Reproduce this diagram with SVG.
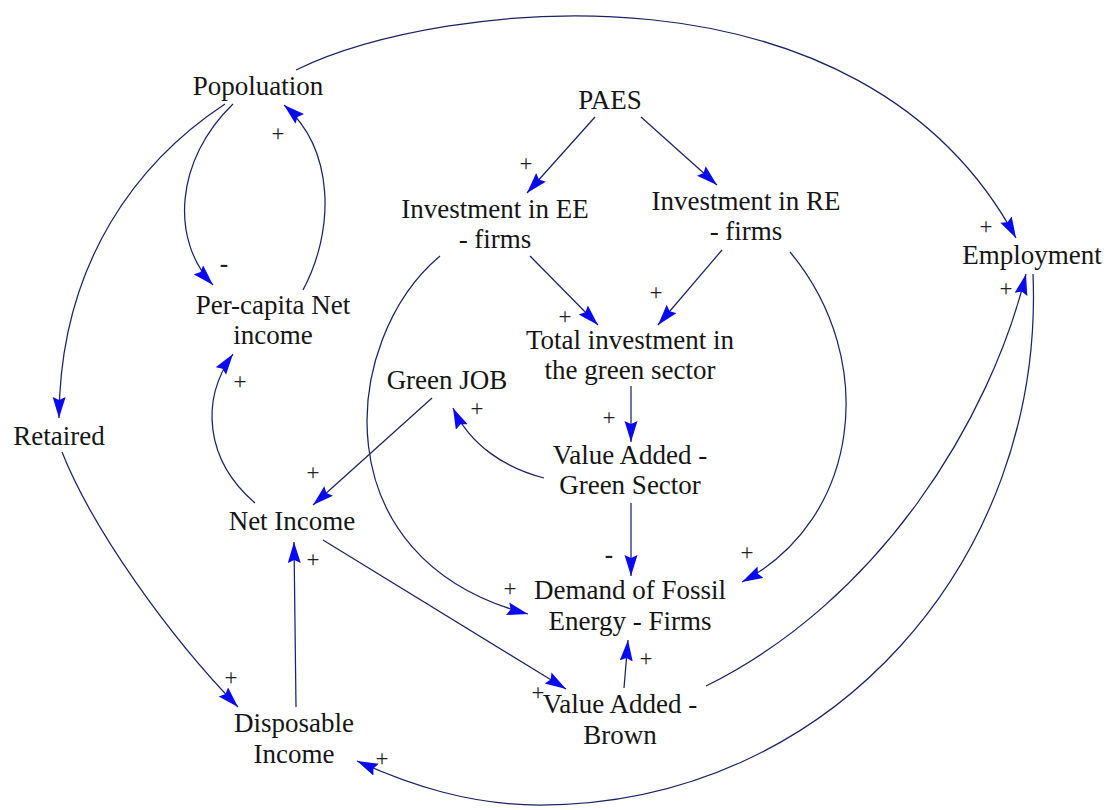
<svg xmlns="http://www.w3.org/2000/svg" width="1114" height="810" viewBox="0 0 1114 810">
<defs>
<marker id="ah" markerUnits="userSpaceOnUse" markerWidth="24" markerHeight="14" refX="21" refY="6.5" orient="auto">
<path d="M0,0 L21,6.5 L0,13 L3,6.5 z" fill="#0a0aee"/>
</marker>
<style>
text{font-family:"Liberation Serif","Times New Roman",serif}
.n{font-size:27px;fill:#151515;text-anchor:middle}
.s{font-size:23px;fill:#202020;text-anchor:middle}
.m{font-size:25px;font-weight:bold;fill:#202020;text-anchor:middle}
.c{fill:none;stroke:#1c2266;stroke-width:1.25;marker-end:url(#ah)}
</style>
</defs>
<rect width="1114" height="810" fill="#ffffff"/>
<g id="connectors">
<path class="c" d="M296,70 C440,0 860,-50 1016,238"/>
<path class="c" d="M233,104 C175,160 170,240 213,285"/>
<path class="c" d="M303,290 C335,230 335,150 284,105"/>
<path class="c" d="M225,104 C140,160 60,260 59,418"/>
<path class="c" d="M595,117 L527,193"/>
<path class="c" d="M641,117 L717,185"/>
<path class="c" d="M530,256 L598,325"/>
<path class="c" d="M722,250 L658,325"/>
<path class="c" d="M440,256 C340,340 320,560 528,614"/>
<path class="c" d="M790,252 C880,360 860,520 742,582"/>
<path class="c" d="M631,386 L631,442"/>
<path class="c" d="M544,478 C505,468 470,445 453,408"/>
<path class="c" d="M432,398 L313,505"/>
<path class="c" d="M255,503 C205,460 200,400 233,354"/>
<path class="c" d="M631,503 L631,576"/>
<path class="c" d="M323,540 L566,689"/>
<path class="c" d="M296,707 L294,542"/>
<path class="c" d="M62,452 C93,530 169,636 238,707"/>
<path class="c" d="M624,688 L628,640"/>
<path class="c" d="M706,686 C880,600 990,420 1026,274"/>
<path class="c" d="M1033,274 C1045,560 830,805 540,805 C470,805 410,785 357,761"/>
</g>
<g id="signs">
<text class="s" x="986" y="234">+</text>
<text class="m" x="224" y="272">-</text>
<text class="s" x="278" y="141">+</text>
<text class="s" x="526" y="171">+</text>
<text class="s" x="565" y="324">+</text>
<text class="s" x="656" y="300">+</text>
<text class="s" x="609" y="425">+</text>
<text class="s" x="477" y="416">+</text>
<text class="s" x="313" y="480">+</text>
<text class="s" x="240" y="389">+</text>
<text class="m" x="609" y="563">-</text>
<text class="s" x="747" y="560">+</text>
<text class="s" x="510" y="596">+</text>
<text class="s" x="313" y="567">+</text>
<text class="s" x="538" y="700">+</text>
<text class="s" x="646" y="666">+</text>
<text class="s" x="1006" y="296">+</text>
<text class="s" x="231" y="685">+</text>
<text class="s" x="382" y="766">+</text>
</g>
<g id="popoluation"><text class="n" x="258" y="95">Popoluation</text></g>
<g id="paes"><text class="n" x="610" y="109">PAES</text></g>
<g id="inv-ee"><text class="n" x="495" y="218">Investment in EE</text><text class="n" x="495" y="248">- firms</text></g>
<g id="inv-re"><text class="n" x="746" y="210">Investment in RE</text><text class="n" x="746" y="240">- firms</text></g>
<g id="employment"><text class="n" x="1032" y="264">Employment</text></g>
<g id="per-capita"><text class="n" x="273" y="314">Per-capita Net</text><text class="n" x="273" y="344">income</text></g>
<g id="total-inv"><text class="n" x="630" y="349">Total investment in</text><text class="n" x="630" y="379">the green sector</text></g>
<g id="green-job"><text class="n" x="447" y="389">Green JOB</text></g>
<g id="retaired"><text class="n" x="59" y="445">Retaired</text></g>
<g id="va-green"><text class="n" x="630" y="464">Value Added -</text><text class="n" x="630" y="494">Green Sector</text></g>
<g id="net-income"><text class="n" x="292" y="530">Net Income</text></g>
<g id="demand-fossil"><text class="n" x="630" y="599">Demand of Fossil</text><text class="n" x="630" y="630">Energy - Firms</text></g>
<g id="va-brown"><text class="n" x="620" y="713">Value Added -</text><text class="n" x="620" y="744">Brown</text></g>
<g id="disposable"><text class="n" x="294" y="732">Disposable</text><text class="n" x="294" y="763">Income</text></g>
</svg>
